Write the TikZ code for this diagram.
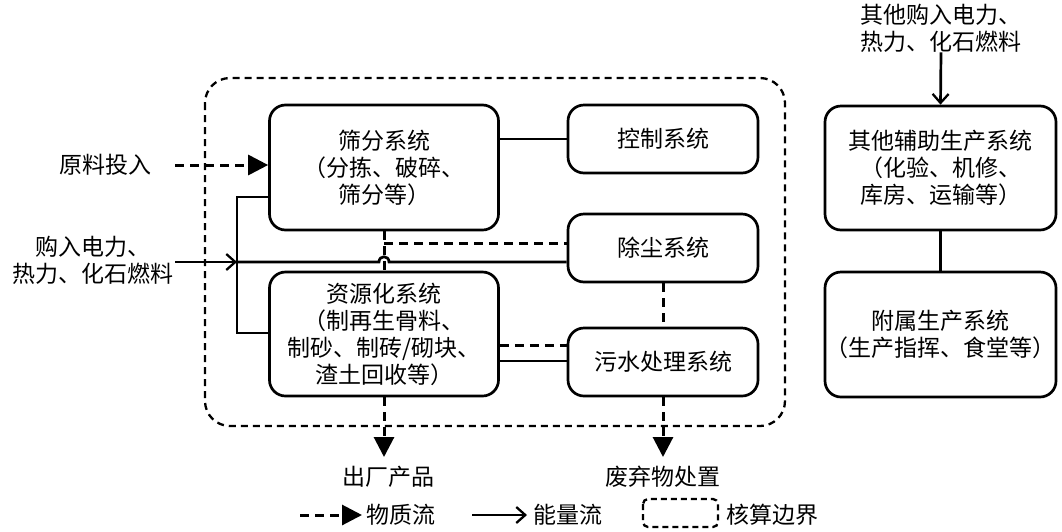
\documentclass[tikz,border=0pt]{standalone}
\usepackage{fontspec}
\setmainfont{Noto Sans CJK SC}
\usetikzlibrary{arrows.meta,calc}
\begin{document}
\begin{tikzpicture}[x=1pt,y=-1pt,
  box/.style={draw,line width=2.7pt,rounded corners=16pt,align=center,inner sep=0pt},
  txt/.style={align=center,inner sep=0pt},
  mat/.style={line width=3pt,dash pattern=on 9pt off 6pt},
  en/.style={line width=2.7pt},
  tri/.style={-{Triangle[length=20pt,width=20pt]}},
  barb/.style={-{Straight Barb[length=9pt,width=16pt,line width=2.3pt]}},
  bound/.style={line width=2.3pt,dash pattern=on 7pt off 5pt},
  font=\fontsize{23}{27}\selectfont]
\useasboundingbox (0,0) rectangle (1062,531);
% accounting boundary
\draw[bound,rounded corners=25pt] (205,78) rectangle (785,426);
% boxes
\node[box,minimum width=229pt,minimum height=125pt] (sf) at (384,167.5) {筛分系统\\（分拣、破碎、\\筛分等）};
\node[box,minimum width=190pt,minimum height=68pt] (kz) at (663,139) {控制系统};
\node[box,minimum width=190pt,minimum height=68pt] (cc) at (663,248) {除尘系统};
\node[box,minimum width=190pt,minimum height=68pt] (ws) at (663,362) {污水处理系统};
\node[box,minimum width=229pt,minimum height=124pt] (zy) at (384,334) {资源化系统\\（制再生骨料、\\制砂、制砖/砌块、\\渣土回收等）};
\node[box,minimum width=231pt,minimum height=124pt] (qt) at (940.5,168) {其他辅助生产系统\\（化验、机修、\\库房、运输等）};
\node[box,minimum width=231pt,minimum height=125pt] (fs) at (940.5,334.5) {附属生产系统\\（生产指挥、食堂等）};
% labels
\node[txt] (yl) at (105,165) {原料投入};
\node[txt] (gr) at (93,260) {购入电力、\\热力、化石燃料};
\node[txt] (tl) at (941,28) {其他购入电力、\\热力、化石燃料};
\coordinate (o1) at (384,457);
\coordinate (o2) at (663,457);
\node[txt] (cp) at (388,477) {出厂产品};
\node[txt] (fq) at (663,477) {废弃物处置};
% material input
\coordinate (in1) at (175,165);
\draw[mat,tri] (in1) -- (in1 -| sf.west);
% energy input
\coordinate (e0) at (175,262);
\coordinate (ej) at (237,262);
\coordinate (ba) at (237,197);
\coordinate (bb) at (237,333);
\draw[en,barb] (e0) -- (ej);
\draw[en] (ej) -- (379,262) .. controls (379,255) and (389,255) .. (389,262) -- (ej -| cc.west);
\draw[en] (ba -| sf.west) -- (ba) -- (bb) -- (bb -| zy.west);
% control link
\draw[en] (kz.west -| sf.east) -- (kz.west);
% dust links
\coordinate (dj) at (384,243);
\draw[mat] (sf.south) -- (zy.north);
\draw[mat] (dj) -- (dj -| cc.west);
\draw[mat] (cc.south) -- (ws.north);
% resource - sewage
\coordinate (rd) at (500,345);
\coordinate (rs) at (500,361);
\draw[mat] (rd -| zy.east) -- (rd -| ws.west);
\draw[en] (rs -| zy.east) -- (rs -| ws.west);
% outputs
\draw[mat,tri] (zy.south) -- (o1);
\draw[mat,tri] (ws.south) -- (o2);
% right column
\draw[en,barb] (tl.south) -- (qt.north);
\draw[en] (qt.south) -- (fs.north);
% legend
\coordinate (l1a) at (300,515);
\coordinate (l1b) at (362,515);
\draw[mat,tri] (l1a) -- (l1b);
\node[txt,anchor=west] (lt1) at (366,515) {物质流};
\coordinate (l2a) at (472,515);
\coordinate (l2b) at (527,515);
\draw[en,barb] (l2a) -- (l2b);
\node[txt,anchor=west] (lt2) at (533,515) {能量流};
\draw[bound,dash pattern=on 6pt off 4pt,rounded corners=5pt] (643,499) rectangle (718,527);
\node[txt,anchor=west] (lt3) at (726,515) {核算边界};
\end{tikzpicture}
\end{document}
